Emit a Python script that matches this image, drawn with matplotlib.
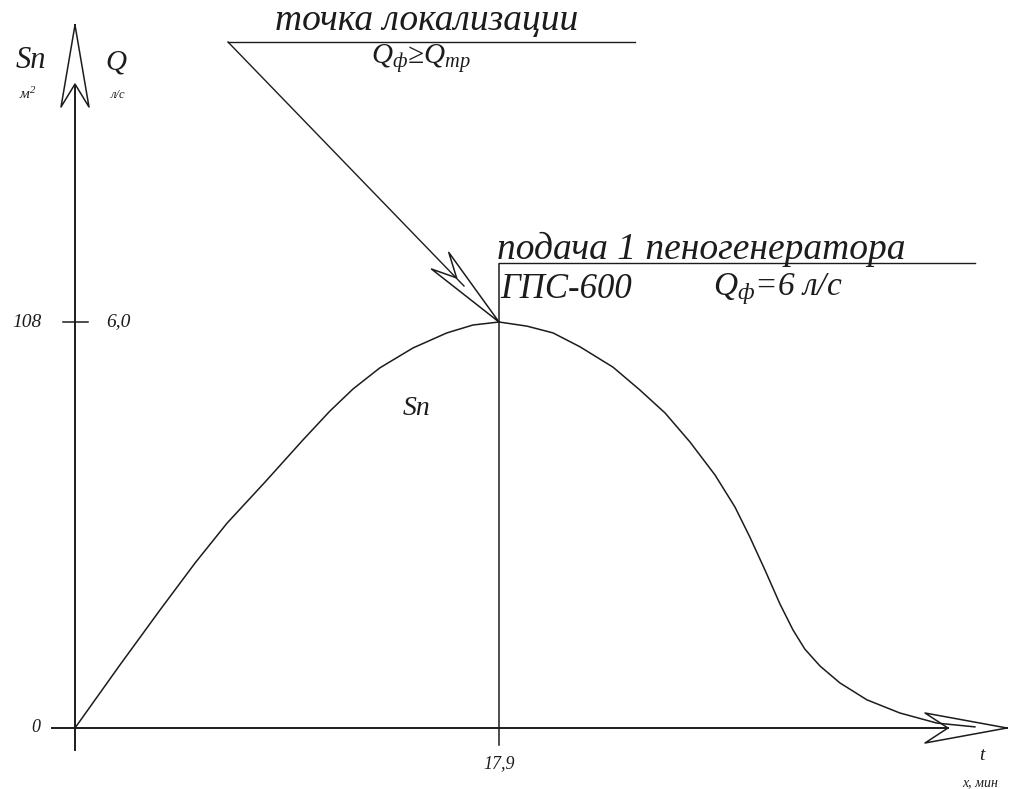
import numpy as np
import matplotlib.pyplot as plt

plt.rcParams['mathtext.fontset'] = 'custom'
plt.rcParams['mathtext.rm'] = 'Liberation Serif:italic'
plt.rcParams['mathtext.it'] = 'Liberation Serif:italic'
plt.rcParams['mathtext.default'] = 'it'

# кривая площади пожара Sп(t)
t_min = [0, 1.90, 3.59, 5.07, 6.42, 8.02, 9.62, 10.76, 11.74, 12.87, 14.27, 15.70, 16.80,
         17.9, 19.08, 20.18, 21.32, 22.71, 23.85, 24.91, 25.96, 27.02, 27.86, 28.49,
         29.13, 29.76, 30.31, 30.81, 31.45, 32.29, 33.43, 34.82, 36.39, 37.99]
s_area = [0, 16.8, 31.4, 43.9, 54.5, 65.4, 76.6, 84.3, 90.2, 95.8, 101.1, 105.1, 107.2,
          108, 106.9, 105.1, 101.4, 96.0, 89.9, 83.8, 76.1, 67.3, 58.8, 50.8,
          42.0, 33.0, 26.1, 21.0, 16.5, 12.0, 7.5, 4.0, 1.3, 0.3]
t_peak = 17.9
s_peak = 108
q_peak = '6,0'

ink = '#1c1c1c'
W, H = 1010, 789
fig = plt.figure(figsize=(W / 100, H / 100), dpi=100)

# слой с осями/подписями в пикселях
ov = fig.add_axes([0, 0, 1, 1])
ov.set_xlim(0, W)
ov.set_ylim(H, 0)
ov.axis('off')

# основные оси с данными
x0, y0 = 75, 728
px_t = 424 / 17.9
px_s = 406 / 108
xmax, ymax = 40, 190
ax = fig.add_axes([x0 / W, (H - y0) / H, xmax * px_t / W, ymax * px_s / H])
ax.set_xlim(0, xmax)
ax.set_ylim(0, ymax)
ax.axis('off')
ax.patch.set_alpha(0)

ax.plot(t_min, s_area, color=ink, lw=1.1)
ax.plot([t_peak, t_peak], [-4.5, 123.5], color=ink, lw=1.1, clip_on=False)
ax.plot([-0.5, 0.55], [s_peak, s_peak], color=ink, lw=1.1, clip_on=False)


def head(tip, d, L=82, hw=14, inner=0.72):
    d = np.array(d, float)
    d /= np.hypot(*d)
    p = np.array([-d[1], d[0]])
    tip = np.array(tip, float)
    b = tip - L * d
    pts = np.array([tip, b + hw * p, tip - inner * L * d, b - hw * p, tip])
    ov.plot(pts[:, 0], pts[:, 1], color=ink, lw=1.1)


# оси
ov.plot([52, 948], [728, 728], color=ink, lw=1.4)
ov.plot([75, 75], [750, 85], color=ink, lw=1.4)
head((75, 25), (0, -1))
head((1007, 728), (1, 0), hw=15)

# выноски
ov.plot([228, 635], [42, 42], color=ink, lw=1.0)
ov.plot([228, 464], [42, 286], color=ink, lw=1.0)
head((499, 322), (269, 280), L=85, hw=12)
ov.plot([499, 975], [263, 263], color=ink, lw=1.0)

txt = dict(family='Liberation Serif', style='italic', color=ink)
ov.text(427, 21, 'точка локализации', fontsize=27, ha='center', va='center', **txt)
ov.text(421, 58, 'Q$_ф$≥Q$_{тр}$', fontsize=21, ha='center', va='center', **txt)
ov.text(497, 249, 'подача 1 пеногенератора', fontsize=27, ha='left', va='center', **txt)
ov.text(500, 289, 'ГПС-600', fontsize=25, ha='left', va='center', **txt)
ov.text(713, 289, 'Q$_ф$=6 л/с', fontsize=24, ha='left', va='center', **txt)
ov.text(417, 408, 'Sп', fontsize=20, ha='center', va='center', **txt)

ov.text(31, 60, 'Sп', fontsize=22, ha='center', va='center', **txt)
ov.text(28, 94, 'м$^2$', fontsize=11, ha='center', va='center', **txt)
ov.text(116, 62, 'Q', fontsize=21, ha='center', va='center', **txt)
ov.text(118, 95, 'л/с', fontsize=9, ha='center', va='center', **txt)

ov.text(27, 322, str(s_peak), fontsize=14, ha='center', va='center', **txt)
ov.text(118, 322, q_peak, fontsize=14, ha='center', va='center', **txt)
ov.text(36, 727, '0', fontsize=13, ha='center', va='center', **txt)
ov.text(499, 764, str(t_peak).replace('.', ','), fontsize=13, ha='center', va='center', **txt)
ov.text(982, 756, 't', fontsize=14, ha='center', va='center', **txt)
ov.text(980, 783, 'х, мин', fontsize=10, ha='center', va='center', **txt)

fig.savefig('out.png', dpi=100, facecolor='white')
